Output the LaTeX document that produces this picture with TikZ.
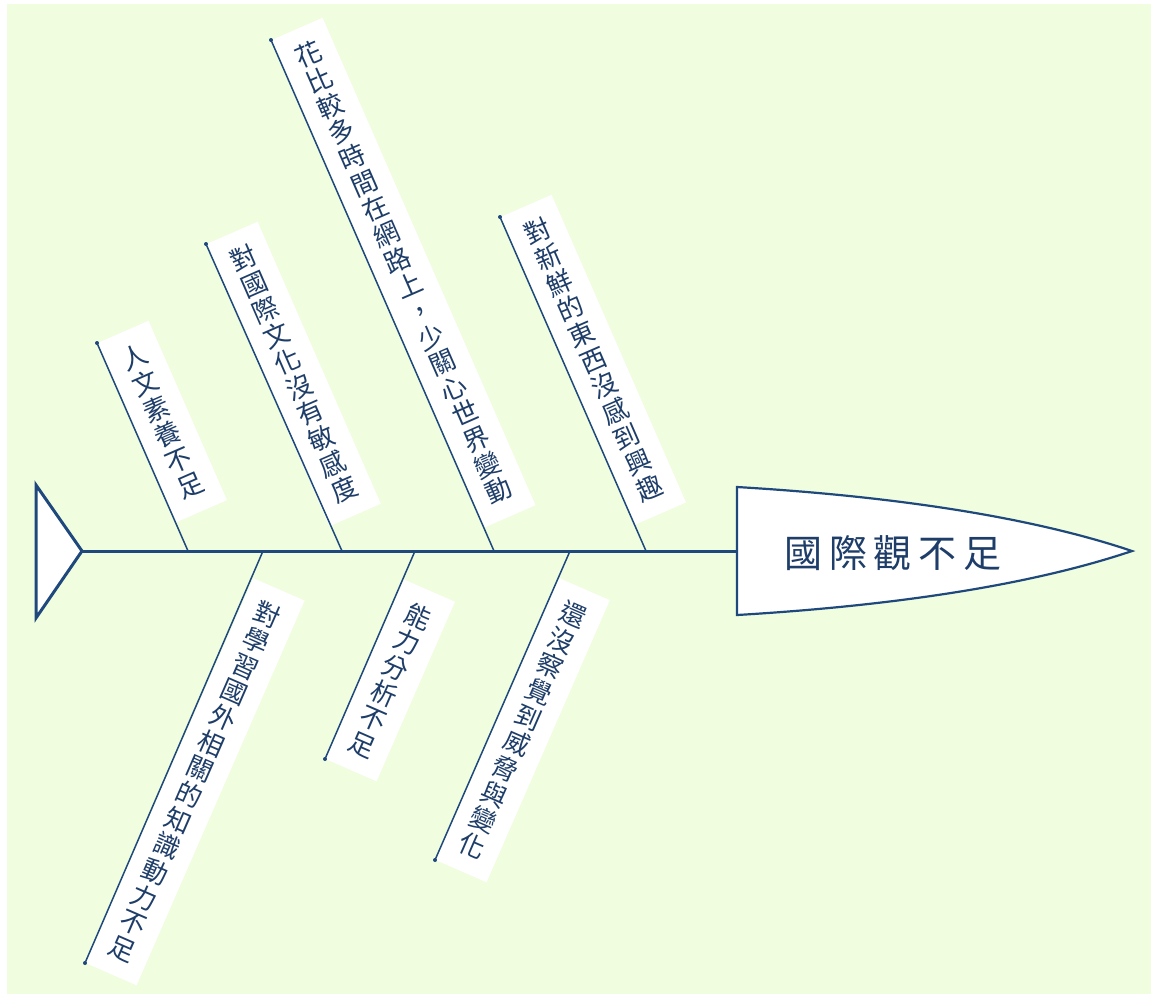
\documentclass[tikz,border=0pt]{standalone}
\usepackage{fontspec}
\newfontfamily\cjk{Noto Sans CJK TC}
\definecolor{bone}{RGB}{31,73,125}
\definecolor{bg}{RGB}{240,253,222}
\definecolor{txt}{RGB}{30,62,105}
\begin{document}
\begin{tikzpicture}[x=1pt,y=-1pt,
  lab/.style={fill=white, inner xsep=15pt, inner ysep=16pt, align=center,
    font=\cjk\fontsize{26}{28}\selectfont, text=txt},
  toplab/.style={lab, rotate=23.6, anchor=north west},
  botlab/.style={lab, rotate=-23.6, anchor=south west},
  boneline/.style={draw=bone, line width=1.5pt},
  spineline/.style={draw=bone, line width=3pt},
  tipdot/.style={circle, fill=bone, inner sep=0pt, minimum size=4pt},
]
\useasboundingbox (0,0) rectangle (1156,997);
\fill[bg] (7,4) rectangle (1151,994);

% spine points
\coordinate (s1) at (188,551);
\coordinate (s2) at (342,551);
\coordinate (s3) at (494,551);
\coordinate (s4) at (646,551);
\coordinate (s5) at (263,551);
\coordinate (s6) at (415,551);
\coordinate (s7) at (570,551);

% free ends
\coordinate (e1) at (97,343);
\coordinate (e2) at (206,244);
\coordinate (e3) at (271,40);
\coordinate (e4) at (500,217);
\coordinate (e5) at (85,963);
\coordinate (e6) at (325,759);
\coordinate (e7) at (435,860);

% label boxes
\node[toplab] (l1) at (e1) {人\\文\\素\\養\\不\\足};
\node[toplab] (l2) at (e2) {對\\國\\際\\文\\化\\沒\\有\\敏\\感\\度};
\node[toplab] (l3) at (e3) {花\\比\\較\\多\\時\\間\\在\\網\\路\\上\\，\\少\\關\\心\\世\\界\\變\\動};
\node[toplab] (l4) at (e4) {對\\新\\鮮\\的\\東\\西\\沒\\感\\到\\興\\趣};
\node[botlab] (l5) at (e5) {對\\學\\習\\國\\外\\相\\關\\的\\知\\識\\動\\力\\不\\足};
\node[botlab] (l6) at (e6) {能\\力\\分\\析\\不\\足};
\node[botlab] (l7) at (e7) {還\\沒\\察\\覺\\到\\威\\脅\\與\\變\\化};

% bones
\foreach \i in {1,...,7}{
  \draw[boneline] (s\i) -- (e\i);
  \node[tipdot] (d\i) at (e\i) {};
}

% tail triangle
\coordinate (tA) at (36,485);
\coordinate (tip) at (82,551);
\coordinate (tB) at (36,618);
\filldraw[fill=white, draw=bone, line width=3pt, line join=miter] (tA) -- (tip) -- (tB) -- cycle;

% head
\coordinate (hT) at (737,487);
\coordinate (hB) at (737,615);
\coordinate (hW) at (737,551);
\coordinate (hE) at (1132,551);
\filldraw[fill=white, draw=bone, line width=2.2pt]
  (hB) -- (hT) .. controls (905,497) and (1037,519) .. (hE)
  .. controls (1037,583) and (905,605) .. (hB) -- cycle;
\node[font=\cjk\fontsize{38}{40}\selectfont, text=txt] (head) at (893,553)
  {國\kern7pt 際\kern7pt 觀\kern7pt 不\kern7pt 足};

% spine
\draw[spineline] (tip) -- (hW);
\end{tikzpicture}
\end{document}
